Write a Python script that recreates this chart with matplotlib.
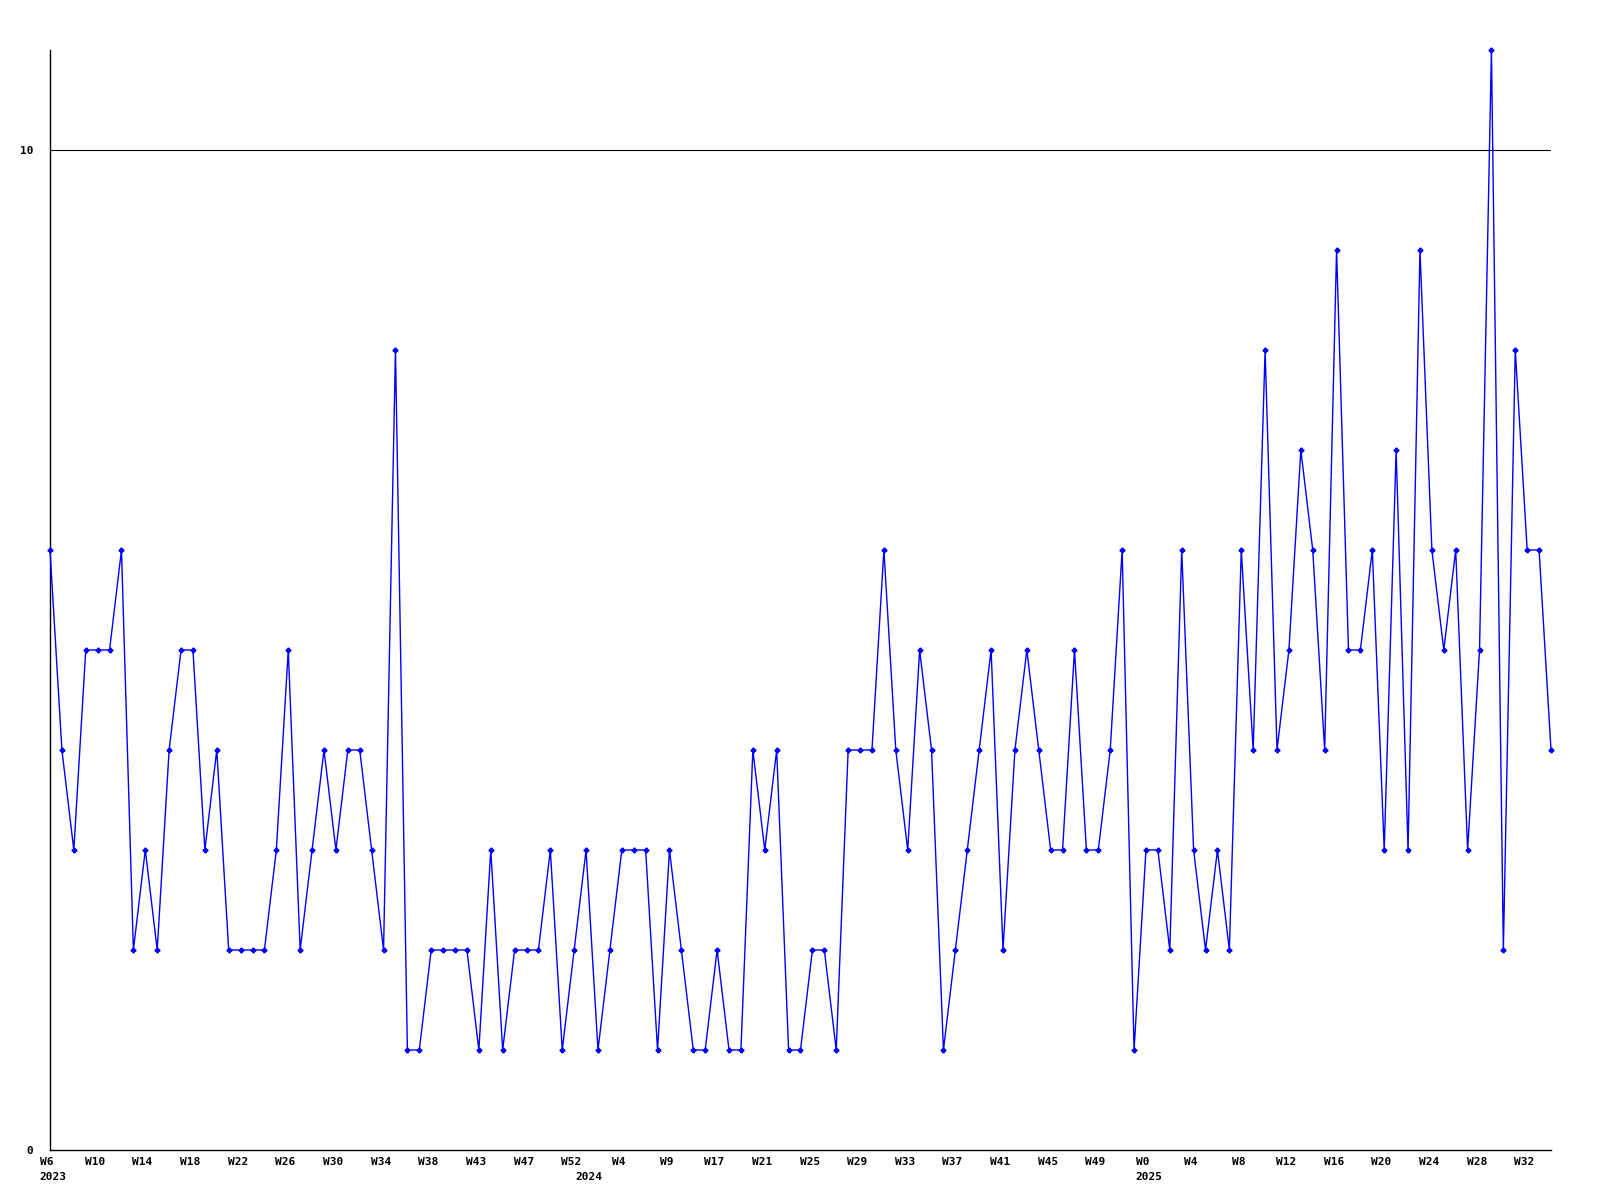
import matplotlib
matplotlib.use("Agg")
import matplotlib.pyplot as plt
import numpy as np

# ---- data ----
values = [6, 4, 3, 5, 5, 5, 6, 2, 3, 2,
          4, 5, 5, 3, 4, 2, 2, 2, 2, 3,
          5, 2, 3, 4, 3, 4, 4, 3, 2, 8,
          1, 1, 2, 2, 2, 2, 1, 3, 1, 2,
          2, 2, 3, 1, 2, 3, 1, 2, 3, 3,
          3, 1, 3, 2, 1, 1, 2, 1, 1, 4,
          3, 4, 1, 1, 2, 2, 1, 4, 4, 4,
          6, 4, 3, 5, 4, 1, 2, 3, 4, 5,
          2, 4, 5, 4, 3, 3, 5, 3, 3, 4,
          6, 1, 3, 3, 2, 6, 3, 2, 3, 2,
          6, 4, 8, 4, 5, 7, 6, 4, 9, 5,
          5, 6, 3, 7, 3, 9, 6, 5, 6, 3,
          5, 11, 2, 8, 6, 6, 4]

week_labels = ["W6", "W10", "W14", "W18", "W22", "W26", "W30", "W34",
               "W38", "W43", "W47", "W52", "W4", "W9", "W17", "W21",
               "W25", "W29", "W33", "W37", "W41", "W45", "W49", "W0",
               "W4", "W8", "W12", "W16", "W20", "W24", "W28", "W32"]
label_step = 4

year_labels = ["2023", "2024", "2025"]
year_start_points = [0, 45, 92]

y_ticks = [0, 10]
gridline_values = [10]

# ---- plotting ----
fig = plt.figure(figsize=(16, 12), dpi=100)
ax = fig.add_axes([50 / 1600, 50 / 1200, 1501 / 1600, 1100 / 1200])

x = np.arange(len(values))
ax.plot(x, values, color="#0000ff", lw=1.0, marker="P", ms=3.2,
        mec="#0000ff", mfc="#0000ff", clip_on=False, zorder=3)

for g in gridline_values:
    ax.axhline(g, color="black", lw=0.8, zorder=1)

ax.set_xlim(0, len(values) - 1)
ax.set_ylim(0, 11)

for s in ("top", "right"):
    ax.spines[s].set_visible(False)
for s in ("left", "bottom"):
    ax.spines[s].set_color("black")
    ax.spines[s].set_linewidth(1.0)

font = dict(family="DejaVu Sans Mono", weight="bold", size=8)

ax.set_yticks(y_ticks)
ax.set_yticklabels([str(v) for v in y_ticks], **font)
ax.tick_params(axis="y", length=0, pad=12)

tick_pos = x[::label_step][:len(week_labels)]
ax.set_xticks([])
for lbl, p in zip(week_labels, tick_pos):
    ax.annotate(lbl, xy=(p, 0), xycoords=("data", "axes fraction"),
                xytext=(-2, -5), textcoords="offset points",
                ha="center", va="top", **font)

for lbl, p in zip(year_labels, year_start_points):
    ax.annotate(lbl, xy=(p, 0), xycoords=("data", "axes fraction"),
                xytext=(2, -16), textcoords="offset points",
                ha="center", va="top", **font)

fig.savefig("out.png", dpi=100)
